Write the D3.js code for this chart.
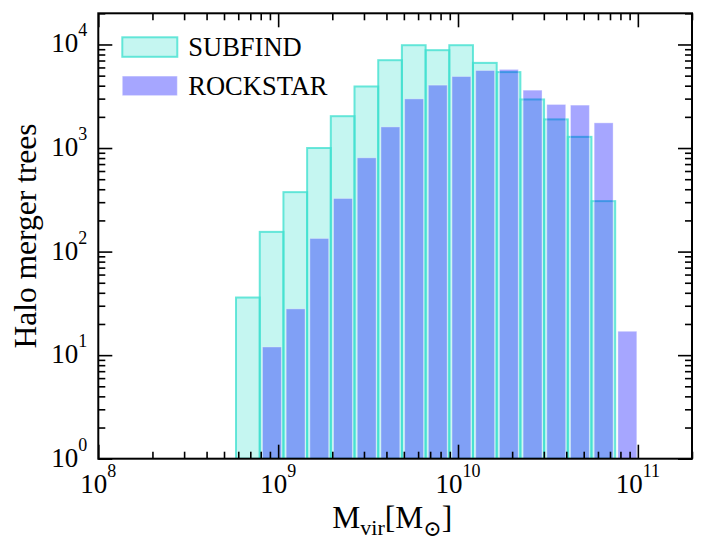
<!DOCTYPE html>
<html>
<head>
<meta charset="utf-8">
<script src="https://cdn.jsdelivr.net/npm/d3@7"></script>
<style>
  body { margin: 0; background: #fff; }
</style>
</head>
<body>
<div id="chart"></div>
<script>
// log-spaced bin edges (M_sun)
const binEdges = [5.83e8, 7.90e8, 1.070e9, 1.449e9, 1.962e9, 2.658e9, 3.601e9, 4.875e9,
                  6.607e9, 8.945e9, 1.211e10, 1.641e10, 2.222e10, 3.011e10, 4.077e10,
                  5.52e10, 7.48e10, 1.013e11]
const subfindCounts = [36, 155, 375, 1000, 2030, 3930, 7050, 9840, 8810, 9840, 6640, 5410, 2945, 1890, 1282, 307, 0]
const rockstarCounts = [0, 12, 28, 134, 326, 805, 1600, 2985, 4050, 4910, 5610, 5740, 3620, 2635, 2596, 1750, 17]
const seriesNames = ["SUBFIND", "ROCKSTAR"]
const xTickExps = [8, 9, 10, 11]
const yTickExps = [0, 1, 2, 3, 4]

const width = 706, height = 553
const margin = { top: 13.3, right: 14, bottom: 94.3, left: 98.3 }
const w = width - margin.left - margin.right
const h = height - margin.top - margin.bottom

const svg = d3.select("#chart").append("svg")
    .attr("width", width)
    .attr("height", height)
    .attr("font-family", "'Liberation Serif', 'DejaVu Serif', serif")

const x = d3.scaleLog().domain([1e8, 2e11]).range([0, w])
const y = d3.scaleLog().domain([1, 2e4]).range([h, 0])

const chart = svg.append("g")
    .attr("transform", `translate(${margin.left},${margin.top})`)

chart.append("clipPath").attr("id", "plotclip")
    .append("rect").attr("width", w).attr("height", h)

const bars = chart.append("g").attr("clip-path", "url(#plotclip)")

const bins = binEdges.slice(0, -1).map((lo, i) => ({
    lo: lo, hi: binEdges[i + 1], sub: subfindCounts[i], rock: rockstarCounts[i]
}))

// SUBFIND: full-width bins
bars.selectAll(".sub")
    .data(bins.filter(d => d.sub > 0))
    .join("rect")
    .attr("class", "sub")
    .attr("x", d => x(d.lo))
    .attr("width", d => x(d.hi) - x(d.lo))
    .attr("y", d => y(d.sub))
    .attr("height", d => y(1) - y(d.sub))
    .attr("fill", "rgba(64,224,208,0.3)")
    .attr("stroke", "rgba(64,224,208,0.78)")
    .attr("stroke-width", 2)

// ROCKSTAR: rwidth 0.8 (linear in data space)
bars.selectAll(".rock")
    .data(bins.filter(d => d.rock > 0))
    .join("rect")
    .attr("class", "rock")
    .attr("x", d => x(d.lo + 0.1 * (d.hi - d.lo)))
    .attr("width", d => x(d.hi - 0.1 * (d.hi - d.lo)) - x(d.lo + 0.1 * (d.hi - d.lo)))
    .attr("y", d => y(d.rock))
    .attr("height", d => y(1) - y(d.rock))
    .attr("fill", "rgba(0,0,255,0.35)")
    .attr("stroke", "rgba(255,255,255,0.35)")
    .attr("stroke-width", 1)

// ticks
const xMajor = xTickExps.map(e => Math.pow(10, e))
const yMajor = yTickExps.map(e => Math.pow(10, e))
const xMinor = [], yMinor = []
for (let e = 8; e <= 11; e++) for (let k = 2; k <= 9; k++) {
    const v = k * Math.pow(10, e)
    if (v <= 2e11) xMinor.push(v)
}
for (let e = 0; e <= 4; e++) for (let k = 2; k <= 9; k++) {
    const v = k * Math.pow(10, e)
    if (v <= 2e4) yMinor.push(v)
}

function styleAxis(g) {
    g.attr("font-family", null)
    g.select(".domain").remove()
    g.selectAll("line").attr("stroke", "#000").attr("stroke-width", 1.6)
    g.selectAll("text").remove()
}

chart.append("g").attr("transform", `translate(0,${h})`)
    .call(d3.axisBottom(x).tickValues(xMajor).tickSize(-14)).call(styleAxis)
chart.append("g").attr("transform", `translate(0,${h})`)
    .call(d3.axisBottom(x).tickValues(xMinor).tickSize(-7)).call(styleAxis)
chart.append("g")
    .call(d3.axisTop(x).tickValues(xMajor).tickSize(-14)).call(styleAxis)
chart.append("g")
    .call(d3.axisTop(x).tickValues(xMinor).tickSize(-7)).call(styleAxis)
chart.append("g")
    .call(d3.axisLeft(y).tickValues(yMajor).tickSize(-14)).call(styleAxis)
chart.append("g")
    .call(d3.axisLeft(y).tickValues(yMinor).tickSize(-7)).call(styleAxis)
chart.append("g").attr("transform", `translate(${w},0)`)
    .call(d3.axisRight(y).tickValues(yMajor).tickSize(-14)).call(styleAxis)
chart.append("g").attr("transform", `translate(${w},0)`)
    .call(d3.axisRight(y).tickValues(yMinor).tickSize(-7)).call(styleAxis)

chart.append("rect")
    .attr("width", w).attr("height", h)
    .attr("fill", "none").attr("stroke", "#000").attr("stroke-width", 2)

// tick labels 10^n
function powLabel(sel, exp) {
    sel.append("tspan").attr("font-size", 27).text("10")
    sel.append("tspan").attr("font-size", 18).attr("dy", -16).text(exp)
}
xTickExps.forEach(e => {
    chart.append("text")
        .attr("x", x(Math.pow(10, e)))
        .attr("y", h + 34)
        .attr("text-anchor", "middle")
        .call(powLabel, e)
})
yTickExps.forEach(e => {
    chart.append("text")
        .attr("x", -11)
        .attr("y", y(Math.pow(10, e)) + 8)
        .attr("text-anchor", "end")
        .call(powLabel, e)
})

// axis titles
const xl = chart.append("text")
    .attr("x", 294)
    .attr("y", h + 69.5)
    .attr("text-anchor", "middle")
    .attr("font-size", 31.5)
xl.append("tspan").text("M")
xl.append("tspan").attr("font-size", 22).attr("dy", 6.5).text("vir")
xl.append("tspan").attr("dy", -6.5).text("[M")
xl.append("tspan").attr("font-size", 22).attr("dy", 7.5).text("\u2299")
xl.append("tspan").attr("dy", -7.5).text("]")

svg.append("text")
    .attr("transform", `translate(36,${margin.top + h / 2}) rotate(-90)`)
    .attr("text-anchor", "middle")
    .attr("font-size", 31.5)
    .text("Halo merger trees")

// legend
const legend = chart.append("g").attr("transform", "translate(24,24)")
const legendStyles = [
    { fill: "rgba(64,224,208,0.3)", stroke: "rgba(64,224,208,0.78)", sw: 2 },
    { fill: "rgba(0,0,255,0.35)", stroke: "rgba(255,255,255,0.35)", sw: 1 }
]
seriesNames.forEach((name, i) => {
    const row = legend.append("g").attr("transform", `translate(0,${i * 38.8})`)
    row.append("rect")
        .attr("width", 55).attr("height", 19.5)
        .attr("fill", legendStyles[i].fill)
        .attr("stroke", legendStyles[i].stroke)
        .attr("stroke-width", legendStyles[i].sw)
    row.append("text")
        .attr("x", 66).attr("y", 19)
        .attr("font-size", 26.5)
        .text(name)
})
</script>
</body>
</html>
